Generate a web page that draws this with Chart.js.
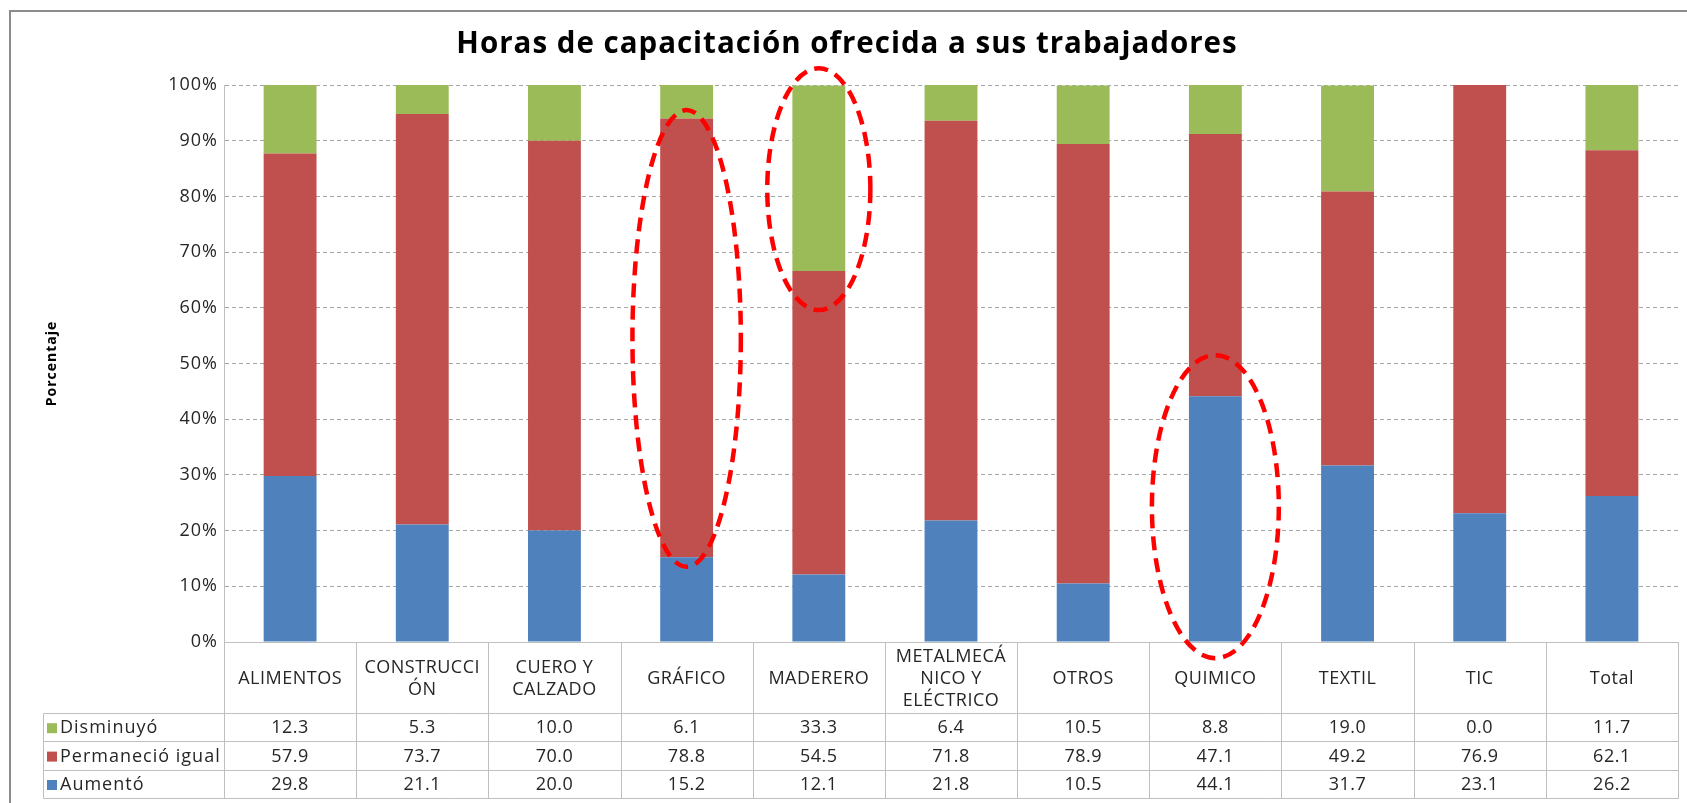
<!DOCTYPE html>
<html>
<head>
<meta charset="utf-8">
<title>Horas de capacitación ofrecida a sus trabajadores</title>
<script src="https://cdn.jsdelivr.net/npm/chart.js@4.4.1/dist/chart.umd.min.js"></script>
<style>
  html, body { margin: 0; padding: 0; background: #fff; }
</style>
</head>
<body>
<canvas id="chart" width="1687" height="803"></canvas>
<script>
const categories = [
    "ALIMENTOS", ["CONSTRUCCI", "ÓN"], ["CUERO Y", "CALZADO"], "GRÁFICO", "MADERERO",
    ["METALMECÁ", "NICO Y", "ELÉCTRICO"], "OTROS", "QUIMICO", "TEXTIL", "TIC", "Total"
];
const disminuyo  = [12.3, 5.3, 10.0, 6.1, 33.3, 6.4, 10.5, 8.8, 19.0, 0.0, 11.7];
const permanecio = [57.9, 73.7, 70.0, 78.8, 54.5, 71.8, 78.9, 47.1, 49.2, 76.9, 62.1];
const aumento    = [29.8, 21.1, 20.0, 15.2, 12.1, 21.8, 10.5, 44.1, 31.7, 23.1, 26.2];
const yTickStep = 10;

const BLUE = "#4F81BD", RED = "#C0504D", GREEN = "#9BBB59";
const FONT = "'Open Sans'";

// red dashed circles drawn on top (category index, value range, half width in categories)
const highlights = [
    { index: 3, from: 13.5, to: 95.5, half: 0.41 },
    { index: 4, from: 59.6, to: 103, half: 0.39 },
    { index: 7, from: -2.9, to: 51.5, half: 0.48 }
];

const framePlugin = {
    id: "frame",
    beforeDraw(chart) {
        const ctx = chart.ctx;
        ctx.save();
        ctx.fillStyle = "#fff";
        ctx.fillRect(0, 0, chart.width, chart.height);
        ctx.strokeStyle = "#8C8C8C";
        ctx.lineWidth = 2;
        ctx.strokeRect(10, 11, chart.width + 20, chart.height + 20);
        ctx.restore();
        // the original text is set quite loose
        ctx.letterSpacing = "1px";
    }
};

const tablePlugin = {
    id: "dataTable",
    afterDraw(chart) {
        const ctx = chart.ctx;
        const xs = chart.scales.x;
        const area = chart.chartArea;
        const colW = (area.right - area.left) / categories.length;
        const top = area.bottom;
        const headBottom = top + 71;
        const rowH = 28.4;
        const legendLeft = 43;
        const rows = [
            { label: "Disminuyó", color: GREEN, data: disminuyo },
            { label: "Permaneció igual", color: RED, data: permanecio },
            { label: "Aumentó", color: BLUE, data: aumento }
        ];
        const px = v => Math.round(v) + 0.5;

        ctx.save();
        ctx.strokeStyle = "#BFBFBF";
        ctx.lineWidth = 1;
        ctx.beginPath();
        // horizontal lines
        ctx.moveTo(px(area.left), px(top));
        ctx.lineTo(px(area.right), px(top));
        for (let r = 0; r <= rows.length; r++) {
            const y = px(headBottom + r * rowH);
            ctx.moveTo(px(legendLeft), y);
            ctx.lineTo(px(area.right), y);
        }
        const bottom = headBottom + rows.length * rowH;
        // vertical lines
        for (let i = 0; i <= categories.length; i++) {
            const x = px(area.left + i * colW);
            ctx.moveTo(x, px(top));
            ctx.lineTo(x, px(bottom));
        }
        ctx.moveTo(px(legendLeft), px(headBottom));
        ctx.lineTo(px(legendLeft), px(bottom));
        ctx.stroke();

        ctx.fillStyle = "#262626";
        ctx.font = "18px " + FONT;
        ctx.letterSpacing = "0.5px";
        ctx.textAlign = "center";
        ctx.textBaseline = "middle";
        const lineH = 22;
        categories.forEach((cat, i) => {
            const lines = Array.isArray(cat) ? cat : [cat];
            const cx = xs.getPixelForValue(i);
            const cy = (top + headBottom) / 2 + 1;
            lines.forEach((t, k) => {
                ctx.fillText(t, cx, cy + (k - (lines.length - 1) / 2) * lineH);
            });
        });
        rows.forEach((row, r) => {
            const cy = headBottom + (r + 0.5) * rowH + 1;
            ctx.letterSpacing = "0.5px";
            row.data.forEach((v, i) => {
                ctx.fillText(v.toFixed(1), xs.getPixelForValue(i), cy);
            });
            ctx.fillStyle = row.color;
            ctx.fillRect(47, cy - 5, 10, 10);
            ctx.fillStyle = "#262626";
            ctx.textAlign = "left";
            ctx.letterSpacing = "1px";
            ctx.fillText(row.label, 60, cy);
            ctx.textAlign = "center";
        });
        ctx.restore();
    }
};

const highlightPlugin = {
    id: "highlights",
    afterDraw(chart) {
        const ctx = chart.ctx;
        const xs = chart.scales.x, ys = chart.scales.y;
        const colW = (chart.chartArea.right - chart.chartArea.left) / categories.length;
        ctx.save();
        ctx.strokeStyle = "#FF0000";
        ctx.lineWidth = 4.5;
        ctx.setLineDash([14, 8]);
        highlights.forEach(h => {
            const cx = xs.getPixelForValue(h.index);
            const yTop = ys.getPixelForValue(h.to);
            const yBot = ys.getPixelForValue(h.from);
            ctx.beginPath();
            ctx.ellipse(cx, (yTop + yBot) / 2, h.half * colW, (yBot - yTop) / 2, 0, 0, Math.PI * 2);
            ctx.stroke();
        });
        ctx.restore();
        ctx.letterSpacing = "0px";
    }
};

new Chart(document.getElementById("chart"), {
    type: "bar",
    data: {
        labels: categories,
        datasets: [
            { label: "Aumentó", data: aumento, backgroundColor: BLUE },
            { label: "Permaneció igual", data: permanecio, backgroundColor: RED },
            { label: "Disminuyó", data: disminuyo, backgroundColor: GREEN }
        ]
    },
    options: {
        responsive: false,
        animation: false,
        layout: { padding: { left: 16, right: 9, top: 0, bottom: 0 } },
        datasets: { bar: { barPercentage: 0.4, categoryPercentage: 1 } },
        plugins: {
            legend: { display: false },
            tooltip: { enabled: false },
            title: {
                display: true,
                text: "Horas de capacitación ofrecida a sus trabajadores",
                color: "#000",
                font: { family: FONT, size: 29.5, weight: "bold" },
                padding: { top: 27, bottom: 22.6 }
            }
        },
        scales: {
            x: {
                stacked: true,
                ticks: { display: false },
                grid: { display: false },
                border: { display: true, color: "#BFBFBF" },
                afterFit: s => { s.height = 161; }
            },
            y: {
                stacked: true,
                min: 0,
                max: 100,
                ticks: {
                    stepSize: yTickStep,
                    padding: 6,
                    color: "#262626",
                    font: { family: FONT, size: 18 },
                    callback: v => v + "%"
                },
                grid: { color: "#A6A6A6", drawTicks: false },
                border: { display: true, color: "#BFBFBF", dash: [4, 3] },
                title: {
                    display: true,
                    text: "Porcentaje",
                    color: "#000",
                    font: { family: FONT, size: 14, weight: "bold" },
                    padding: { top: 28, bottom: 0 }
                },
                afterFit: s => { s.width = 208; }
            }
        }
    },
    plugins: [framePlugin, tablePlugin, highlightPlugin]
});
</script>
</body>
</html>
